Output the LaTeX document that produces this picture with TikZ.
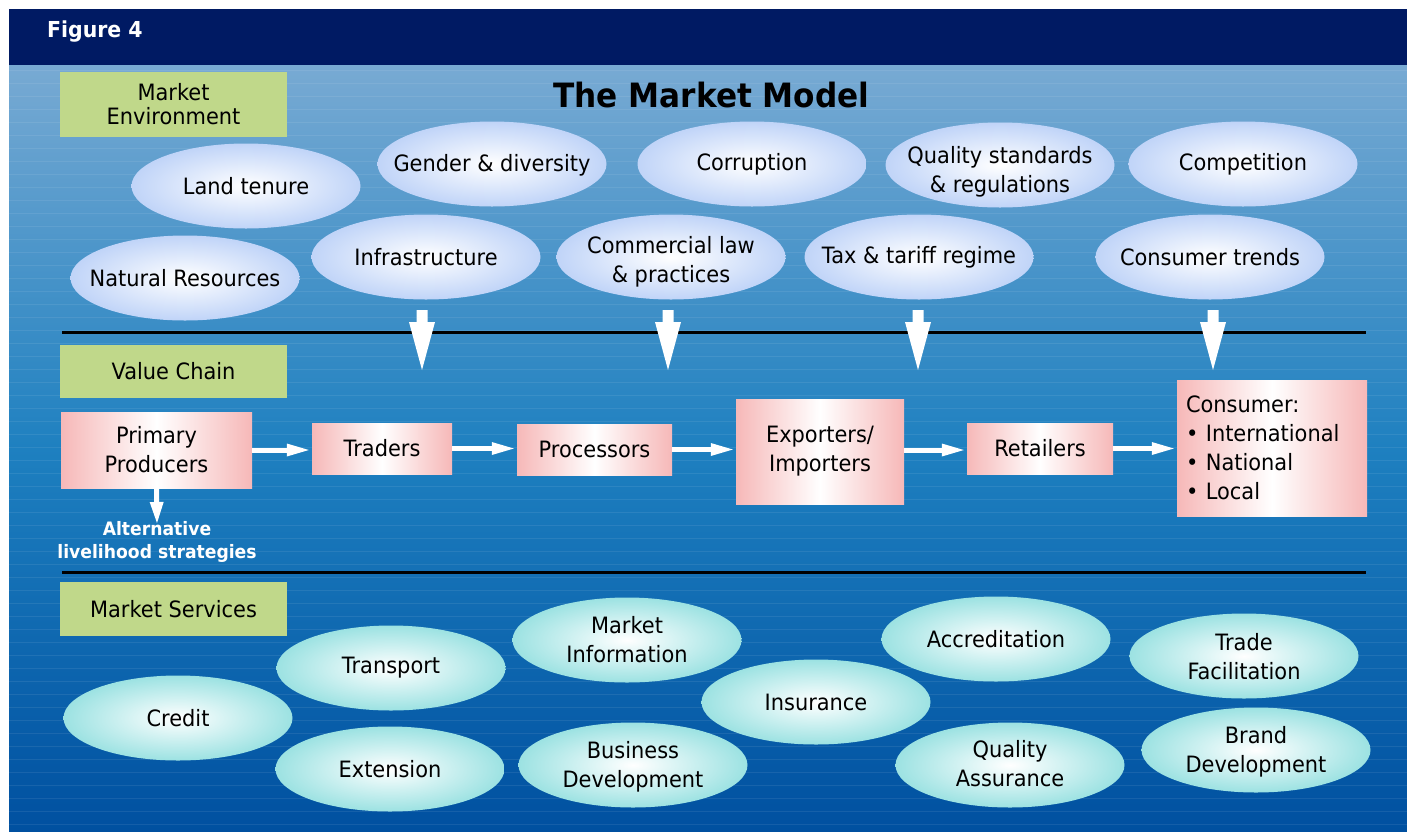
\documentclass[tikz,border=0pt]{standalone}
\usepackage{fontspec}
\setmainfont{DejaVu Sans}[FakeStretch=0.93]
\usetikzlibrary{shapes.geometric,arrows.meta}
\definecolor{navy}{RGB}{0,26,99}
\definecolor{bgtop}{RGB}{120,170,211}
\definecolor{bgmid}{RGB}{30,128,192}
\definecolor{bgbot}{RGB}{0,80,160}
\definecolor{labelgreen}{RGB}{192,216,138}
\definecolor{pinkedge}{RGB}{246,184,184}
\definecolor{envedge}{RGB}{192,212,248}
\definecolor{svcedge}{RGB}{156,226,226}
\begin{document}
\begin{tikzpicture}[x=1pt,y=-1pt,
  txt/.style={font=\fontsize{22.5}{29}\selectfont},
  elltext/.style={txt, inner sep=0pt, align=center},
  envell/.style={ellipse, minimum width=229pt, minimum height=85pt, inner sep=0pt,
    inner color=white, outer color=envedge},
  svcell/.style={envell, inner color=white, outer color=svcedge},
  chainbox/.style={txt, rectangle, inner sep=0pt, left color=pinkedge, right color=pinkedge,
    middle color=white, align=center},
  greenlabel/.style={txt, rectangle, fill=labelgreen, inner sep=0pt, minimum width=227pt, align=center},
  flowarrow/.style={white, line width=5pt, -{Triangle[length=22pt,width=13pt,line width=0pt]}},
  sepline/.style={black, line width=3pt},
  bigarrow/.pic={\fill[white] (-5.5,0) -- (5.5,0) -- (5.5,12) -- (13,12) -- (0,60) -- (-13,12) -- (-5.5,12) -- cycle;}
]
\useasboundingbox (0,0) rectangle (1407,831);
\fill[white] (0,0) rectangle (1407,831);
\fill[navy] (9,9) rectangle (1407,65);
\shade[top color=bgtop, bottom color=bgbot, middle color=bgmid] (9,65) rectangle (1407,831);
\foreach \yy in {70,83,...,830} \draw[white, opacity=0.08, line width=1pt] (9,\yy) -- (1407,\yy);

% header and title
\node[anchor=west, text=white, inner sep=0pt, font=\bfseries\fontsize{22}{26}\selectfont] (fig) at (47,32) {Figure 4};
\node[inner sep=0pt, font=\bfseries\fontsize{33.5}{38}\selectfont] (title) at (711.5,95) {The Market Model};

% section labels
\node[greenlabel, minimum height=65pt, font=\fontsize{22.5}{24}\selectfont] (envlabel) at (173.5,104.5) {Market\\Environment};
\node[greenlabel, minimum height=53pt] (chainlabel) at (173.5,371.5) {Value Chain};
\node[greenlabel, minimum height=54pt] (svclabel) at (173.5,609) {Market Services};

% separators
\coordinate (s1a) at (62,332); \coordinate (s1b) at (1366,332);
\coordinate (s2a) at (62,572); \coordinate (s2b) at (1366,572);
\draw[sepline] (s1a) -- (s1b);
\draw[sepline] (s2a) -- (s2b);

% market environment
\node[envell, label={[elltext]center:Land tenure}] (land) at (246,186) {};
\node[envell, label={[elltext, yshift=-1pt]center:Gender \& diversity}] (gender) at (492,164) {};
\node[envell, label={[elltext, yshift=-7pt]center:{Quality standards\\\& regulations}}] (quality) at (1000,165) {};
\node[envell, label={[elltext]center:Corruption}] (corruption) at (752,164) {};
\node[envell, label={[elltext]center:Competition}] (competition) at (1243,164) {};
\node[envell, label={[elltext]center:Natural Resources}] (natural) at (185,278) {};
\node[envell, label={[elltext]center:Infrastructure}] (infra) at (426,257) {};
\node[envell, label={[elltext, yshift=-5pt]center:{Commercial law\\\& practices}}] (commercial) at (671,257) {};
\node[envell, label={[elltext]center:Tax \& tariff regime}] (tax) at (919,257) {};
\node[envell, label={[elltext]center:Consumer trends}] (trends) at (1210,257) {};

% big arrows
\pic at (422,310) {bigarrow};
\pic at (668,310) {bigarrow};
\pic at (918,310) {bigarrow};
\pic at (1213,310) {bigarrow};

% value chain
\node[chainbox, minimum width=191pt, minimum height=76pt] (primary) at (156.5,450) {Primary\\Producers};
\node[chainbox, minimum width=140pt, minimum height=51pt] (traders) at (382,448.5) {Traders};
\node[chainbox, minimum width=155pt, minimum height=51pt] (processors) at (594.5,449.5) {Processors};
\node[chainbox, minimum width=168pt, minimum height=105pt] (exporters) at (820,451.5) {Exporters/\\Importers};
\node[chainbox, minimum width=146pt, minimum height=51pt] (retailers) at (1040,448.5) {Retailers};
\node[chainbox, minimum width=190pt, minimum height=136pt, text width=172pt, inner xsep=9pt, align=left] (consumer) at (1272,448)
  {Consumer:\\•\ International\\•\ National\\•\ Local};

\draw[flowarrow, shorten >=3pt] (primary.east) -- (primary.east -| traders.west);
\draw[flowarrow, shorten >=3pt] (traders.east) -- (traders.east -| processors.west);
\draw[flowarrow, shorten >=3pt] (processors.east) -- (processors.east -| exporters.west);
\draw[flowarrow, shorten >=3pt] (exporters.east |- 0,450) -- (retailers.west |- 0,450);
\draw[flowarrow, shorten >=3pt] (retailers.east) -- (retailers.east -| consumer.west);

\coordinate (altend) at (157,523);
\draw[white, line width=5pt, -{Triangle[length=21pt,width=14pt,line width=0pt]}] (primary.south) -- (altend);
\node[text=white, inner sep=0pt, align=center, font=\bfseries\fontsize{18.5}{23}\selectfont] (alt) at (157,542) {Alternative\\livelihood strategies};

% market services
\node[svcell, label={[elltext]center:Credit}] (credit) at (178,718) {};
\node[svcell, label={[elltext]center:Transport}] (transport) at (391,668) {};
\node[svcell, label={[elltext]center:Extension}] (extension) at (390,769) {};
\node[svcell, label={[elltext]center:{Market\\Information}}] (marketinfo) at (627,640) {};
\node[svcell, label={[elltext, yshift=-2pt]center:{Business\\Development}}] (business) at (633,765) {};
\node[svcell, label={[elltext]center:Insurance}] (insurance) at (816,702) {};
\node[svcell, label={[elltext]center:Accreditation}] (accreditation) at (996,639) {};
\node[svcell, label={[elltext, yshift=1pt]center:{Quality\\Assurance}}] (qassurance) at (1010,765) {};
\node[svcell, label={[elltext, yshift=-1pt]center:{Trade\\Facilitation}}] (trade) at (1244,656) {};
\node[svcell, label={[elltext, yshift=-2pt]center:{Brand\\Development}}] (brand) at (1256,750) {};
\end{tikzpicture}
\end{document}
